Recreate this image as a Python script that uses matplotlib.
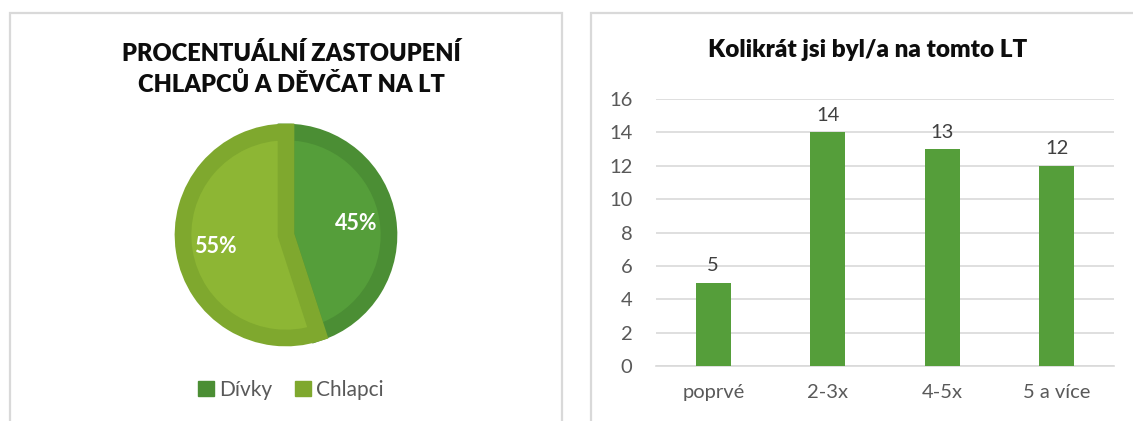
import matplotlib
matplotlib.use("Agg")
import matplotlib.pyplot as plt
from matplotlib.patches import Rectangle

plt.rcParams['font.family'] = ['Lato', 'DejaVu Sans']

W, H = 1133, 421

# pie data
pie_labels = ['Dívky', 'Chlapci']
pie_values = [45, 55]
pie_title = 'PROCENTUÁLNÍ ZASTOUPENÍ\nCHLAPCŮ A DĚVČAT NA LT'

# bar data
bar_cats = ['poprvé', '2-3x', '4-5x', '5 a více']
bar_values = [5, 14, 13, 12]
bar_title = 'Kolikrát jsi byl/a na tomto LT'

pie_fill = ['#559E3A', '#8DB634']
pie_edge = ['#4B8E34', '#7FA82E']
bar_color = '#559E3A'
grid_col = '#D9D9D9'
txt_col = '#595959'


def px_rect(x0, y0, x1, y1):
    # pixel box (top-left origin) -> figure fraction rect
    return [x0 / W, 1 - y1 / H, (x1 - x0) / W, (y1 - y0) / H]


fig = plt.figure(figsize=(W / 100, H / 100), dpi=100)

# panel borders
for x0, x1 in [(10, 562), (591, 1140)]:
    fig.patches.append(Rectangle((x0 / W, -0.05), (x1 - x0) / W, 1.05 - 13 / H,
                                 transform=fig.transFigure, fill=False,
                                 edgecolor=grid_col, linewidth=1.6))

# ---- pie ----
ax1 = fig.add_axes(px_rect(183, 132, 389, 338))
wedges, _, autotexts = ax1.pie(pie_values, colors=pie_fill, startangle=90,
                               counterclock=False, autopct='%1.0f%%',
                               pctdistance=0.69,
                               textprops=dict(color='white', fontsize=15.5,
                                              fontweight='bold'))
for w, ec in zip(wedges, pie_edge):
    w.set_edgecolor(ec)
    w.set_linewidth(12)
    w.set_clip_path(w)
ax1.set_xlim(-1, 1)
ax1.set_ylim(-1, 1)
ax1.set_aspect('auto')

fig.text(291 / W, 1 - 69 / H, pie_title, ha='center', va='center',
         fontsize=17, fontweight='heavy', color='#0D0D0D', linespacing=1.35)

handles = [Rectangle((0, 0), 1, 1, color=c) for c in pie_edge]
fig.legend(handles, pie_labels, loc='center', bbox_to_anchor=(291 / W, 1 - 390 / H),
           ncol=2, frameon=False, fontsize=15, labelcolor=txt_col,
           handlelength=0.75, handleheight=0.75, handletextpad=0.25,
           columnspacing=1.1)

# ---- bar ----
ax2 = fig.add_axes(px_rect(656, 99, 1114, 366))
xs = range(len(bar_cats))
bars = ax2.bar(xs, bar_values, width=0.31, color=bar_color, zorder=3)
ax2.bar_label(bars, padding=6, fontsize=14.5, color='#404040')
ax2.set_xlim(-0.5, len(bar_cats) - 0.5)
ax2.set_ylim(0, 16)
ax2.set_yticks(range(0, 17, 2))
ax2.set_xticks(list(xs))
ax2.set_xticklabels(bar_cats)
ax2.grid(axis='y', color=grid_col, linewidth=1.2, zorder=0)
for s in ['top', 'right', 'left']:
    ax2.spines[s].set_visible(False)
ax2.spines['bottom'].set_color(grid_col)
ax2.spines['bottom'].set_linewidth(1.2)
ax2.tick_params(axis='both', length=0, labelsize=14.5, labelcolor=txt_col)
ax2.tick_params(axis='y', pad=17)
ax2.tick_params(axis='x', pad=13)

fig.text(868 / W, 1 - 50 / H, bar_title, ha='center', va='center',
         fontsize=17.5, fontweight='heavy', color='#0D0D0D')

fig.savefig('out.png', dpi=100)
